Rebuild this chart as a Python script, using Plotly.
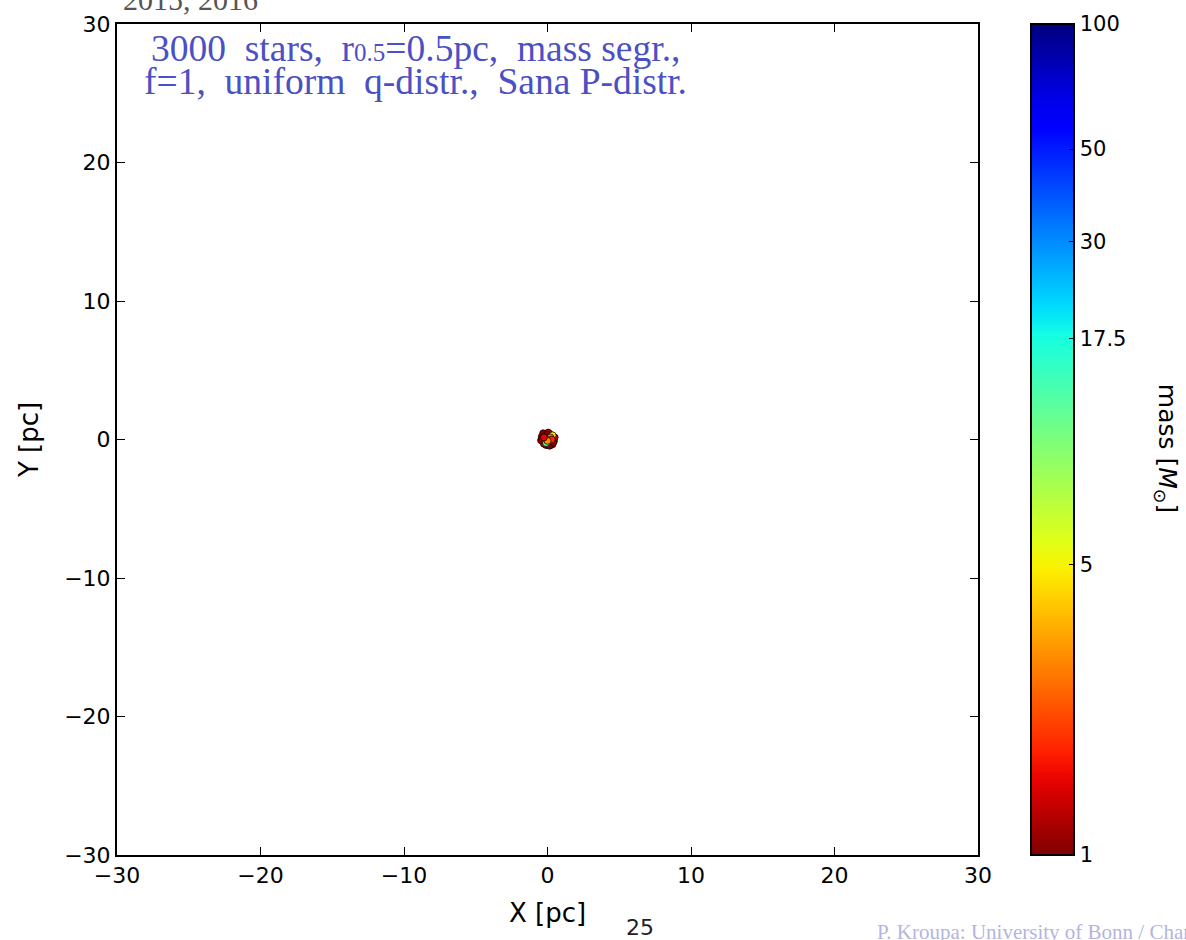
import numpy as np
import plotly.graph_objects as go

# Star positions [pc] and masses [Msun] of the compact cluster near the origin
star_x = [0.05, -0.20, 0.30, -0.35, 0.15, 0.40, -0.10, 0.25, -0.40, 0.00,
          0.35, -0.25, 0.10, -0.05, 0.45, -0.30, 0.20, -0.15, 0.30, 0.05,
          -0.45, 0.15, 0.50, -0.20, 0.00, 0.25, -0.35, 0.40, -0.10, 0.10,
          0.35, 0.20, -0.05, 0.30, 0.00, -0.25]
star_y = [0.05, 0.30, -0.25, -0.10, 0.40, 0.10, -0.40, 0.30, 0.20, -0.20,
          -0.35, -0.30, -0.05, 0.20, -0.10, 0.45, 0.05, 0.00, 0.20, 0.50,
          -0.05, -0.45, 0.15, 0.10, 0.35, -0.10, 0.05, -0.20, -0.25, 0.20,
          0.30, 0.15, 0.00, 0.00, -0.10, 0.15]
star_m = [1.4, 1.2, 1.1, 1.3, 1.2, 1.0, 1.1, 1.5, 1.2, 1.3,
          1.1, 1.2, 1.6, 1.2, 1.1, 1.0, 1.4, 1.3, 3.5, 1.2,
          1.1, 1.0, 1.2, 1.3, 1.1, 2.2, 1.2, 1.1, 12.0, 1.3,
          4.5, 2.8, 9.0, 1.8, 3.0, 1.5]

# Colour bar ticks (mass, log-scaled)
cbar_ticks = [1, 5, 17.5, 30, 50, 100]
cbar_labels = ["1", "5", "17.5", "30", "50", "100"]

# Axis ticks
axis_ticks = [-30, -20, -10, 0, 10, 20, 30]


def jet_r_scale(n=33):
    """Reversed 'jet' colour map as a Plotly colorscale."""
    red = [(0, 0), (0.35, 0), (0.66, 1), (0.89, 1), (1, 0.5)]
    green = [(0, 0), (0.125, 0), (0.375, 1), (0.64, 1), (0.91, 0), (1, 0)]
    blue = [(0, 0.5), (0.11, 1), (0.34, 1), (0.65, 0), (1, 0)]

    def chan(seg, t):
        xs, ys = zip(*seg)
        return float(np.interp(t, xs, ys))

    scale = []
    for i in range(n):
        f = i / (n - 1)
        t = 1 - f
        r, g, b = (int(round(255 * chan(s, t))) for s in (red, green, blue))
        scale.append([f, f"rgb({r},{g},{b})"])
    return scale


fig = go.Figure()

fig.add_trace(go.Scatter(
    x=star_x, y=star_y, mode="markers",
    marker=dict(
        size=7,
        color=np.log10(star_m),
        cmin=0, cmax=2,
        colorscale=jet_r_scale(),
        line=dict(color="black", width=0.7),
        showscale=True,
        colorbar=dict(
            x=(1031 - 117) / 861, xanchor="left", xpad=0,
            y=0.5, yanchor="middle", len=1, lenmode="fraction", ypad=0,
            thickness=43, thicknessmode="pixels",
            outlinewidth=2, outlinecolor="black",
            tickvals=np.log10(cbar_ticks), ticktext=cbar_labels,
            ticks="inside", ticklen=6, tickcolor="black", tickwidth=1,
            tickfont=dict(family="DejaVu Sans", size=21, color="black"),
        ),
    ),
    showlegend=False,
))

axis_common = dict(
    tickvals=axis_ticks, ticks="inside", ticklen=8, tickwidth=1,
    tickcolor="black", showline=True, linecolor="black", linewidth=2,
    mirror="ticks", showgrid=False, zeroline=False,
    tickfont=dict(family="DejaVu Sans", size=22, color="black"),
)

fig.update_xaxes(range=[-30, 30], title=dict(text="X [pc]", standoff=16,
                 font=dict(family="DejaVu Sans", size=26, color="black")),
                 **axis_common)
fig.update_yaxes(range=[-30, 30], title=dict(text="Y [pc]", standoff=18,
                 font=dict(family="DejaVu Sans", size=26, color="black")),
                 **axis_common)

serif = "Liberation Serif"
annotations = [
    dict(text="3000  stars,  r<span style='font-size:25px'>0.5</span>=0.5pc,  mass segr.,",
         x=149, y=69, size=37.5, color="#4b50c4", family=serif),
    dict(text="f=1,  uniform  q-distr.,  Sana P-distr.",
         x=142, y=102, size=37.5, color="#4b50c4", family=serif),
    dict(text="2015, 2016", x=121, y=16, size=30, color="#555555", family=serif),
    dict(text="25", x=624, y=942, size=22, color="#222222", family="DejaVu Sans"),
    dict(text="P. Kroupa: University of Bonn / Charles University Prague",
         x=875, y=946, size=21, color="#b4b4e0", family=serif),
]
for a in annotations:
    fig.add_annotation(
        text=a["text"], xref="paper", yref="paper",
        x=(a["x"] - 117) / 861, y=(855 - a["y"]) / 833,
        xanchor="left", yanchor="bottom", showarrow=False,
        font=dict(family=a["family"], size=a["size"], color=a["color"]),
    )

# Colour bar title, reading top to bottom
fig.add_annotation(
    text="mass [<i>M</i><sub>⊙</sub>]", xref="paper", yref="paper",
    x=(1166 - 117) / 861, y=0.49, xanchor="center", yanchor="middle",
    textangle=90, showarrow=False,
    font=dict(family="DejaVu Sans", size=25, color="black"),
)

fig.update_layout(
    width=1186, height=940,
    margin=dict(l=117, r=1186 - 978, t=22, b=940 - 855),
    paper_bgcolor="white", plot_bgcolor="white",
)

fig.write_html("out.html")
